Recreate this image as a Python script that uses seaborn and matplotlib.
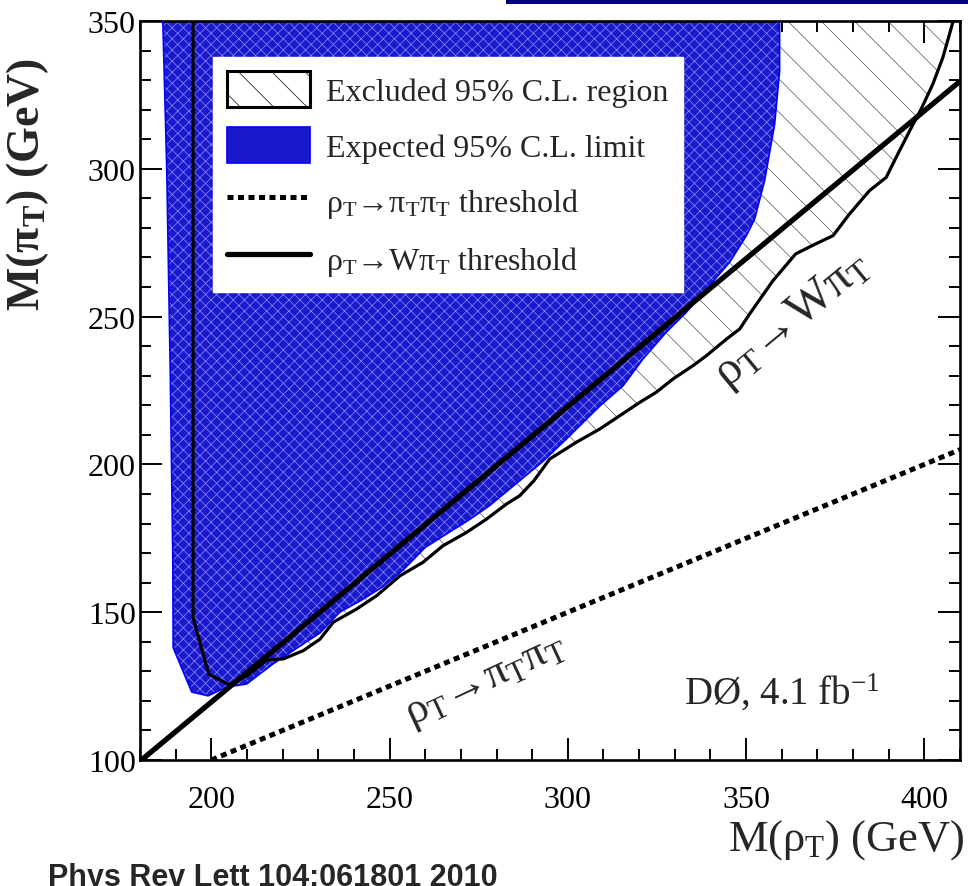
import numpy as np
import pandas as pd
import matplotlib
matplotlib.use("Agg")
import matplotlib.pyplot as plt
import seaborn as sns
from matplotlib.patches import Patch, Rectangle
from matplotlib.lines import Line2D
from matplotlib.ticker import MultipleLocator

# ---------------- data ----------------
# expected 95% C.L. limit (blue region boundary)
blue_x = [186.4, 187.5, 188.5, 189.2, 189.3, 194.5, 199.1, 204.3, 209.9, 217.3, 230.5,
          236.0, 242.0, 248.0, 254.0, 260.0, 266.0, 272.0, 278.0, 286.5, 293.0, 299.6,
          309.0, 315.5, 321.1, 327.6, 333.2, 338.9, 345.4, 350.1, 352.4, 355.2, 358.0,
          359.4, 359.4]
blue_y = [350.0, 300.0, 230.0, 168.0, 138.0, 123.0, 121.7, 124.7, 125.7, 132.5, 143.0,
          150.0, 154.0, 158.5, 164.5, 171.9, 176.5, 181.0, 186.0, 194.5, 201.0, 208.6,
          219.8, 226.6, 235.7, 244.7, 251.4, 259.3, 268.4, 277.4, 283.0, 296.0, 315.0,
          333.0, 350.0]

# observed excluded region contour
excl_x = [194.9, 194.9, 199.3, 205.0, 210.0, 215.5, 220.2, 225.8, 230.5, 234.2, 240.8,
          246.4, 252.9, 259.4, 265.0, 271.6, 277.2, 282.8, 286.5, 290.5, 294.9, 302.4,
          309.0, 314.6, 320.2, 324.8, 329.5, 335.1, 338.9, 344.5, 348.2, 351.0, 357.5,
          363.9, 368.5, 374.4, 379.0, 384.6, 389.3, 392.1, 395.9, 399.1, 402.4, 405.2,
          408.0]
excl_y = [350.0, 148.0, 129.0, 125.5, 128.5, 133.8, 134.2, 137.0, 140.9, 146.6, 151.1,
          155.6, 162.3, 166.9, 172.5, 177.0, 181.5, 186.6, 189.4, 194.5, 201.8, 207.5,
          212.0, 216.5, 221.0, 224.4, 228.9, 233.4, 236.8, 242.4, 245.8, 250.9, 262.1,
          271.2, 274.0, 277.4, 284.7, 292.6, 297.1, 303.9, 312.9, 320.2, 328.7, 337.7,
          349.6]

# kinematic thresholds (end points)
w_thr_x = [180.0, 410.0]
w_thr_y = [99.6, 329.6]
pp_thr_x = [200.0, 410.0]
pp_thr_y = [100.0, 205.0]

legend_labels = ["Excluded 95% C.L. region",
                 "Expected 95% C.L. limit",
                 "ρ$_{\\mathregular{T}}$→π$_{\\mathregular{T}}$π$_{\\mathregular{T}}$ threshold",
                 "ρ$_{\\mathregular{T}}$→Wπ$_{\\mathregular{T}}$ threshold"]

# ---------------- style ----------------
sns.set_theme(style="ticks")
plt.rcParams["font.family"] = ["Liberation Serif", "DejaVu Serif"]
plt.rcParams["mathtext.fontset"] = "custom"
plt.rcParams["mathtext.rm"] = "Liberation Serif"
plt.rcParams["mathtext.it"] = "Liberation Serif:italic"
plt.rcParams["mathtext.bf"] = "Liberation Serif:bold"
plt.rcParams["hatch.linewidth"] = 0.5
plt.rcParams["axes.linewidth"] = 1.9

BLUE_FACE = "#1a1acc"
BLUE_DOTS = "#8c8cff"

fig = plt.figure(figsize=(9.68, 8.87), dpi=100)
ax = fig.add_axes([140 / 968, 1 - 761 / 887, 820 / 968, 739 / 887])

# excluded region (hatched)
ax.fill(excl_x + [408.0], excl_y + [350.0], facecolor="none", edgecolor="#555555",
        hatch="\\", linewidth=0, zorder=1)
# expected region (blue with fine white dots)
ax.fill(blue_x, blue_y, facecolor=BLUE_FACE, edgecolor=BLUE_DOTS, hatch="xxx",
        linewidth=0, zorder=2)
ax.plot(blue_x, blue_y, color="#0000ff", lw=1.2, zorder=3)
# excluded contour
ax.plot(excl_x, excl_y, color="black", lw=2.3, zorder=4, solid_joinstyle="miter")

# threshold lines
df_w = pd.DataFrame({"m_rho": w_thr_x, "m_pi": w_thr_y})
df_p = pd.DataFrame({"m_rho": pp_thr_x, "m_pi": pp_thr_y})
sns.lineplot(data=df_w, x="m_rho", y="m_pi", ax=ax, color="black", lw=3.8, zorder=5,
             legend=False)
sns.lineplot(data=df_p, x="m_rho", y="m_pi", ax=ax, color="black", lw=3.6, zorder=5,
             linestyle=(0, (1.2, 0.9)), legend=False)

ax.set_xlim(180, 410)
ax.set_ylim(100, 350)
ax.xaxis.set_major_locator(MultipleLocator(50))
ax.xaxis.set_minor_locator(MultipleLocator(10))
ax.yaxis.set_major_locator(MultipleLocator(50))
ax.yaxis.set_minor_locator(MultipleLocator(10))
ax.tick_params(which="both", direction="in", top=True, right=True, width=1.4,
               colors="black", labelsize=23)
ax.tick_params(which="major", length=15.5)
ax.tick_params(which="minor", length=7.8)
ax.tick_params(axis="x", which="both", pad=18)
ax.tick_params(axis="y", which="both", pad=3)
for s in ax.spines.values():
    s.set_color("black")
ax.set_xlabel("")
ax.set_ylabel("")

# annotations
ax.text(363, 249, "ρ$_{\\mathregular{T}}$→Wπ$_{\\mathregular{T}}$", fontsize=35,
        rotation=39.6, rotation_mode="anchor", ha="center", va="center", zorder=6)
ax.text(277, 127, "ρ$_{\\mathregular{T}}$→π$_{\\mathregular{T}}$π$_{\\mathregular{T}}$",
        fontsize=32, rotation=25, rotation_mode="anchor", ha="center", va="center", zorder=6)
ax.text(360, 123, "DØ, 4.1 fb$^{\\mathregular{-1}}$", fontsize=28, ha="center",
        va="center", zorder=6)

# legend
handles = [Patch(facecolor="white", edgecolor="black", hatch="\\", lw=2.2),
           Patch(facecolor=BLUE_FACE, edgecolor="#0000ff", lw=1.2),
           Line2D([], [], color="black", lw=3.6, linestyle=(0, (1.2, 0.9))),
           Line2D([], [], color="black", lw=3.8)]
leg = ax.legend(handles, legend_labels, loc="upper left",
                bbox_to_anchor=((213 - 140) / 820, (761 - 58) / 739),
                borderaxespad=0, fontsize=23, frameon=True, fancybox=False,
                handlelength=2.6, handleheight=1.35, handletextpad=0.5,
                labelspacing=0.62, borderpad=0.45)
leg.get_frame().set_facecolor("white")
leg.get_frame().set_edgecolor("white")
leg.get_frame().set_alpha(1)
leg.set_zorder(7)

# axis titles
fig.text(28 / 968, 1 - 185 / 887, "M(π$_{\\mathregular{T}}$) (GeV)", rotation=90,
         ha="center", va="center", fontsize=33, fontweight="bold")
fig.text(965 / 968, 1 - 840 / 887, "M(ρ$_{\\mathregular{T}}$) (GeV)", ha="right",
         va="center", fontsize=32)

# reference text and top frame fragment
fig.text(48 / 968, 1 - 863 / 887, "Phys Rev Lett 104:061801 2010", ha="left", va="top",
         fontsize=22, fontweight="bold", family=["Liberation Sans", "DejaVu Sans"])
fig.patches.append(Rectangle((506 / 968, 1 - 5 / 887), 1, 6 / 887,
                             transform=fig.transFigure, facecolor="#000080",
                             edgecolor="none"))

fig.savefig("out.png", dpi=100)
